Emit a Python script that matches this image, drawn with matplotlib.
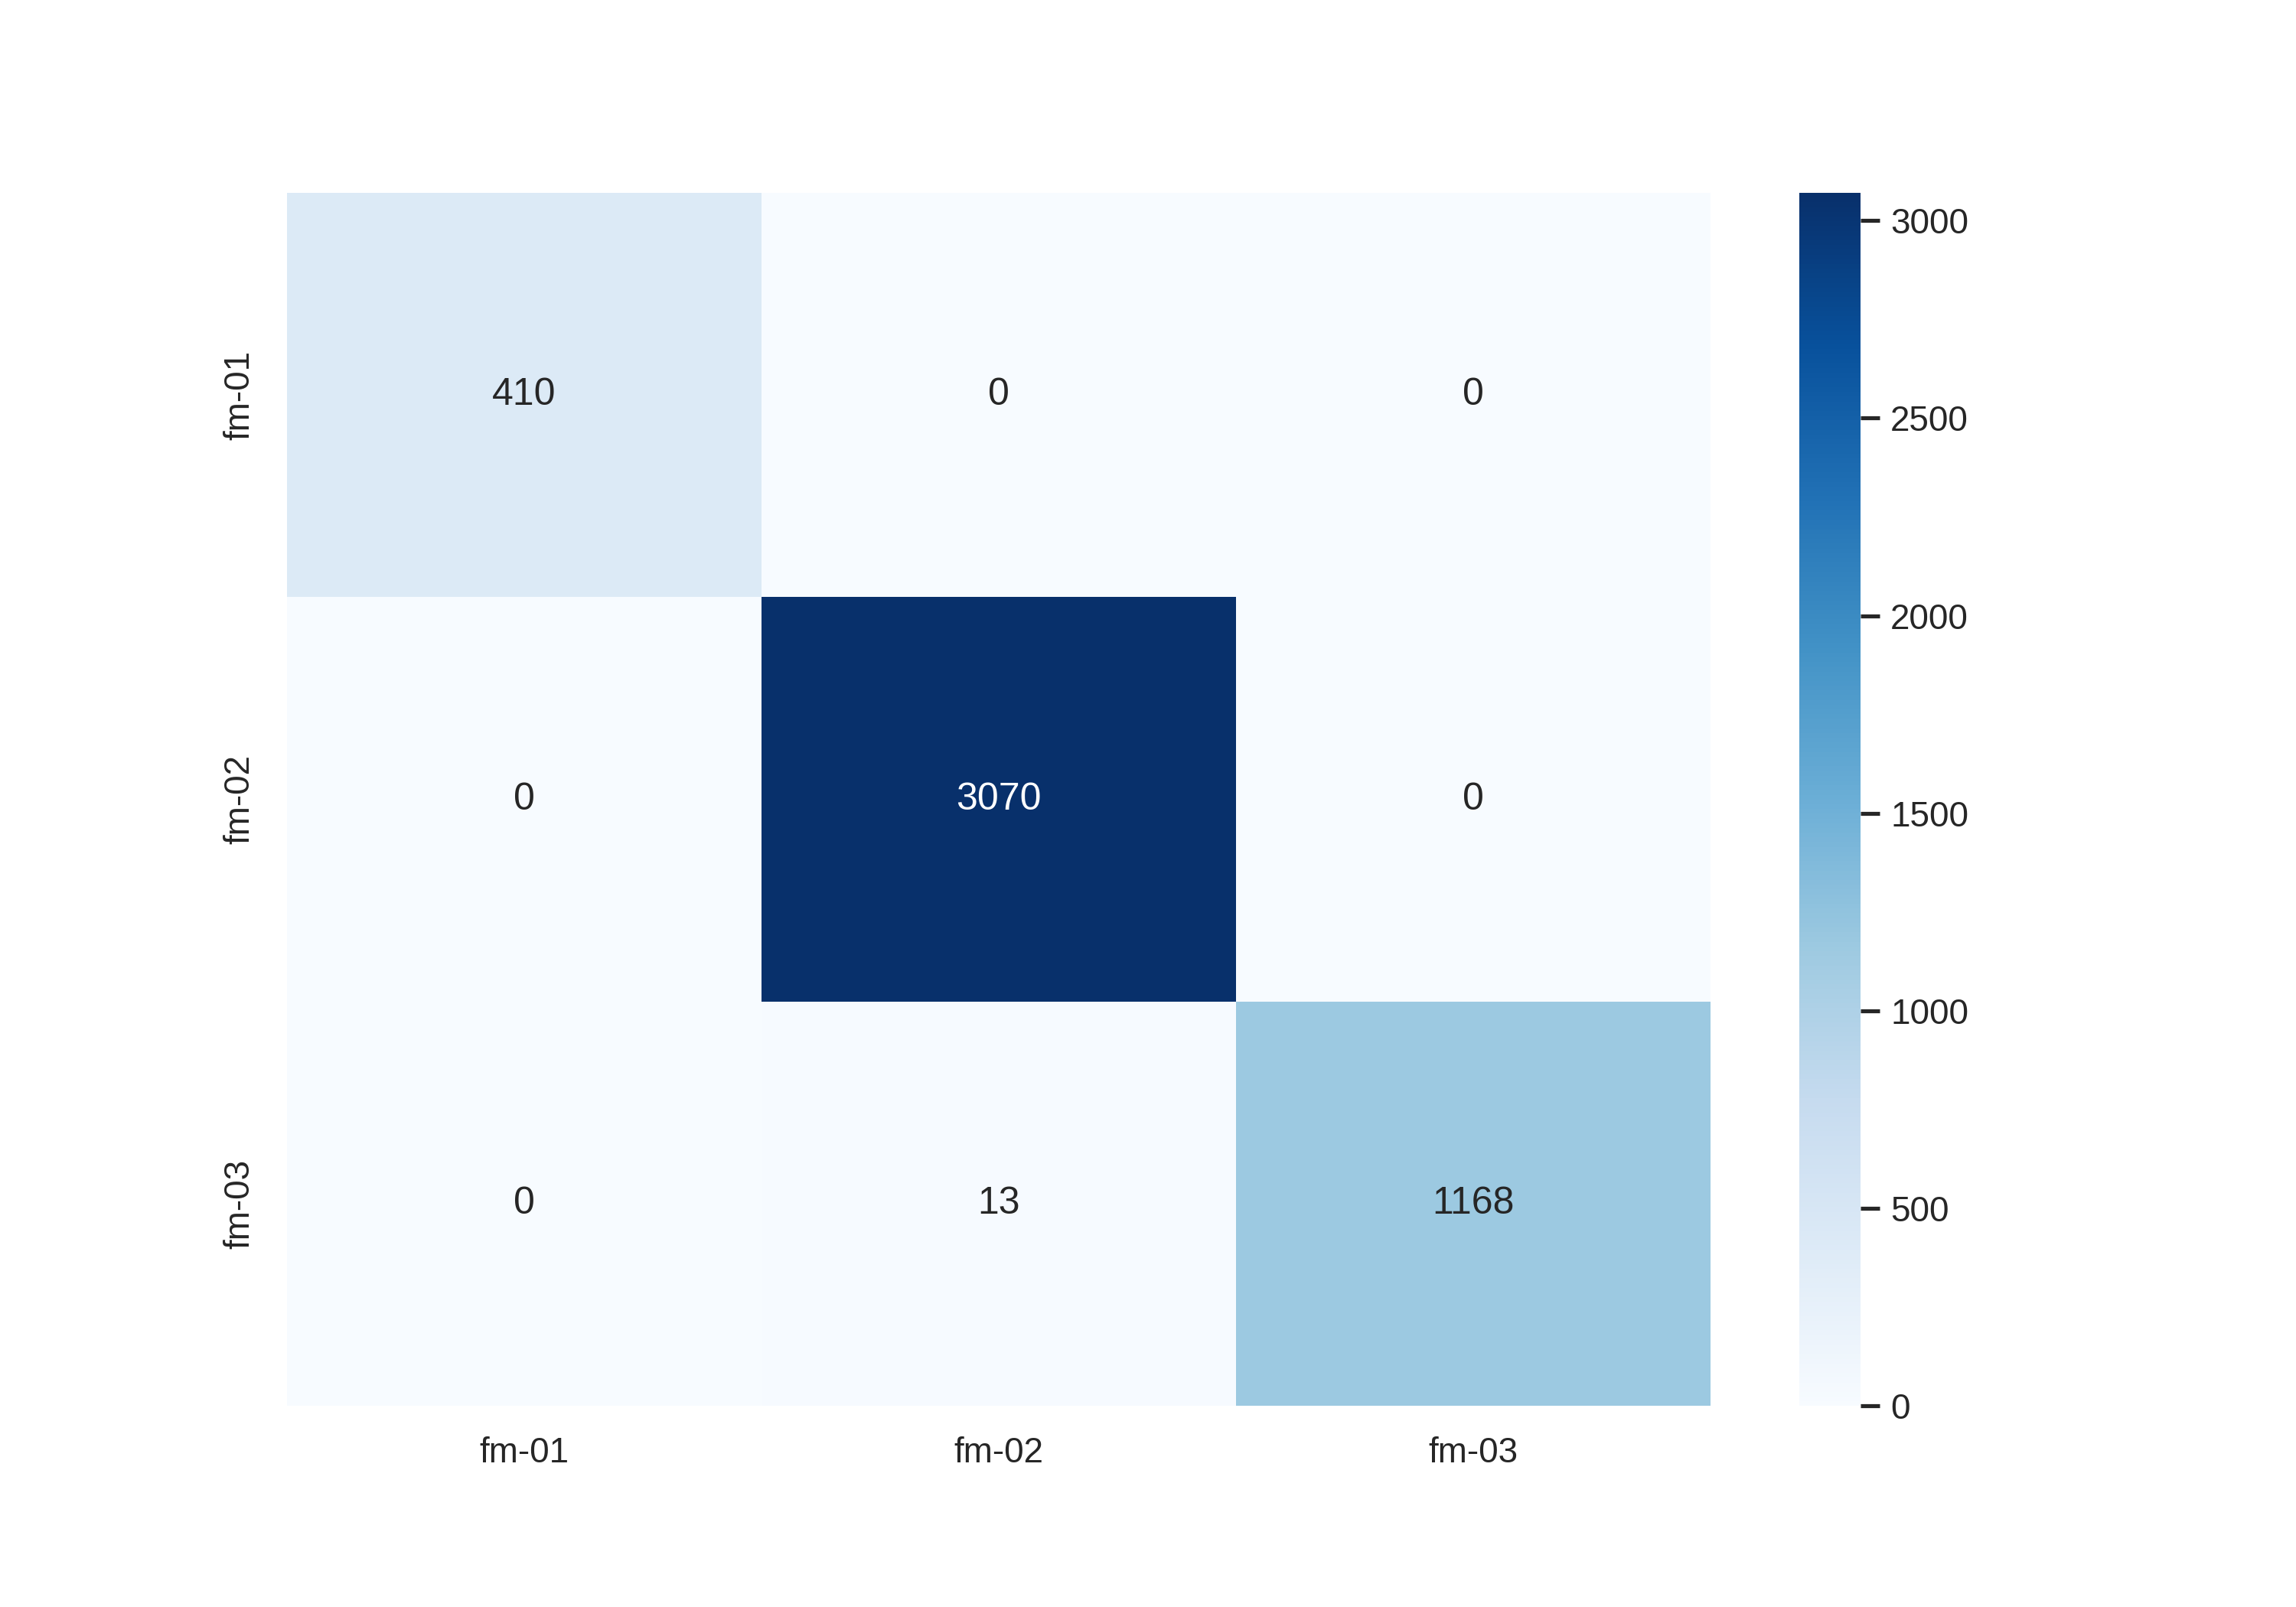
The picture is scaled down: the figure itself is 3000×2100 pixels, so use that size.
import numpy as np
import matplotlib
matplotlib.use("Agg")
import matplotlib.pyplot as plt
import seaborn as sns

# confusion matrix counts (rows = true, cols = predicted)
labels = ["fm-01", "fm-02", "fm-03"]
row_fm01 = [410, 0, 0]
row_fm02 = [0, 3070, 0]
row_fm03 = [0, 13, 1168]

sns.set_theme(style="white")
plt.rcParams["font.family"] = ["Liberation Sans", "DejaVu Sans"]

cm = np.array([row_fm01, row_fm02, row_fm03])

fig, ax = plt.subplots(figsize=(10, 7))
fig.subplots_adjust(left=0.125, right=0.9, top=0.88, bottom=0.125)
sns.heatmap(cm, annot=True, fmt="d", cmap="Blues",
            xticklabels=labels, yticklabels=labels, ax=ax)

plt.savefig("out.png", dpi=300)
plt.close()
